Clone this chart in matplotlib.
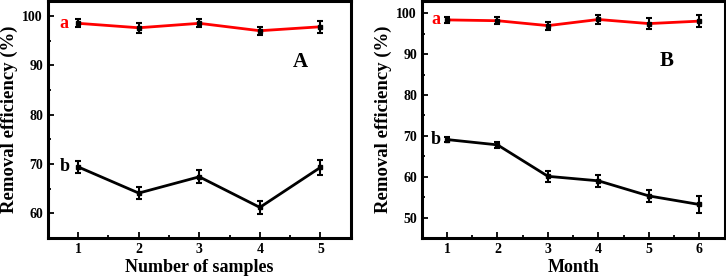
import numpy as np
import matplotlib
matplotlib.use('Agg')
import matplotlib.pyplot as plt
from matplotlib.ticker import MultipleLocator

plt.rcParams['font.family'] = ['Liberation Serif', 'DejaVu Serif']
plt.rcParams['font.weight'] = 'bold'

# panel A
samples = [1, 2, 3, 4, 5]
a_red = [98.5, 97.6, 98.5, 97.0, 97.8]
a_red_err = [0.8, 1.0, 0.8, 0.8, 1.2]
a_black = [69.4, 64.1, 67.4, 61.2, 69.3]
a_black_err = [1.3, 1.2, 1.3, 1.3, 1.6]

# panel B
months = [1, 2, 3, 4, 5, 6]
b_red = [98.4, 98.2, 97.0, 98.5, 97.5, 98.1]
b_red_err = [0.7, 0.8, 1.0, 1.2, 1.4, 1.5]
b_black = [69.1, 67.8, 60.1, 59.0, 55.3, 53.2]
b_black_err = [0.7, 0.8, 1.3, 1.5, 1.5, 2.0]

fig = plt.figure(figsize=(7.26, 2.79), dpi=100)
axA = fig.add_axes([0.066, 0.147, 0.417, 0.849])
axB = fig.add_axes([0.581, 0.147, 0.417, 0.849])


def draw(ax, x, red, rerr, black, berr):
    ax.errorbar(x, red, yerr=rerr, color='red', lw=2, marker='s', ms=3,
                mfc='black', mec='black', ecolor='black', elinewidth=1.5,
                capsize=2.5, capthick=1.5)
    ax.errorbar(x, black, yerr=berr, color='black', lw=2, marker='s', ms=3,
                ecolor='black', elinewidth=1.5, capsize=2.5, capthick=1.5)
    for s in ax.spines.values():
        s.set_linewidth(2.2)
    ax.tick_params(direction='in', which='both', labelsize=10, width=1.3)
    ax.tick_params(which='major', length=4)
    ax.tick_params(which='minor', length=2.5)
    ax.xaxis.set_major_locator(MultipleLocator(1))
    ax.xaxis.set_minor_locator(MultipleLocator(0.5))
    ax.yaxis.set_major_locator(MultipleLocator(10))
    ax.yaxis.set_minor_locator(MultipleLocator(5))
    ax.set_ylabel('Removal efficiency (%)', fontsize=13.5, fontweight='bold', labelpad=3)


draw(axA, samples, a_red, a_red_err, a_black, a_black_err)
axA.set_xlim(0.5, 5.5)
axA.set_ylim(55, 103)
axA.set_xlabel('Number of samples', fontsize=13, fontweight='bold', labelpad=2)
axA.text(0.77, 98.4, 'a', color='red', fontsize=13, ha='center', va='center')
axA.text(0.77, 69.4, 'b', color='black', fontsize=13, ha='center', va='center')
axA.text(4.67, 90.7, 'A', fontsize=15, ha='center', va='center')

draw(axB, months, b_red, b_red_err, b_black, b_black_err)
axB.set_xlim(0.5, 6.5)
axB.set_ylim(45, 103)
axB.set_xlabel('Month', fontsize=13, fontweight='bold', labelpad=2)
axB.text(0.77, 98.4, 'a', color='red', fontsize=13, ha='center', va='center')
axB.text(0.77, 69.1, 'b', color='black', fontsize=13, ha='center', va='center')
axB.text(5.35, 88.3, 'B', fontsize=15, ha='center', va='center')

fig.savefig('out.png', dpi=100)
